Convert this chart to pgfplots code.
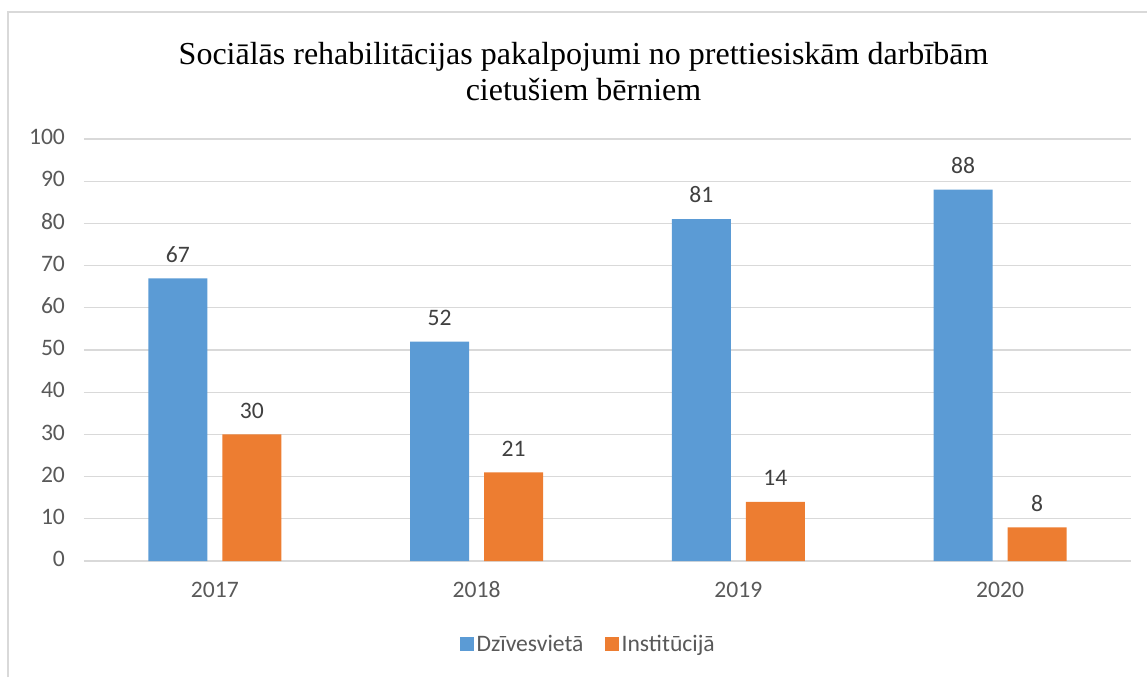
\documentclass[border=0pt]{standalone}
\usepackage{fontspec}
\setmainfont{Carlito}
\newfontfamily\titlefont{Liberation Serif}
\usepackage{pgfplots}
\pgfplotsset{compat=1.18}
\definecolor{dzblue}{HTML}{5B9BD5}
\definecolor{inorange}{HTML}{ED7D31}
\definecolor{gridgray}{HTML}{D9D9D9}
\definecolor{ticktext}{HTML}{595959}
\definecolor{labeltext}{HTML}{404040}
\begin{document}
\begin{tikzpicture}
\path[use as bounding box] (0,0) rectangle (573.5pt,-338.5pt);
% chart area frame (only left and top edges are visible)
\draw[gridgray, line width=0.6pt] (4pt,-338.5pt) -- (4pt,-6pt) -- (573.5pt,-6pt);
\node[font=\titlefont\fontsize{16}{18}\selectfont, align=center, anchor=center]
  at (291.75pt,-36pt) {Sociālās rehabilitācijas pakalpojumi no prettiesiskām darbībām\\cietušiem bērniem};
\begin{axis}[
    at={(42pt,-280.5pt)}, anchor=south west,
    scale only axis, width=523.5pt, height=211pt,
    ybar=7.5pt, bar width=29.5pt,
    xmin=-0.5, xmax=3.5, ymin=0, ymax=100,
    xtick={0,1,2,3}, xticklabels={2017,2018,2019,2020},
    ytick={0,10,...,100},
    ymajorgrids, major grid style={gridgray, line width=0.6pt},
    axis line style={draw=none}, major tick length=0pt,
    typeset ticklabels with strut,
    tick label style={font=\fontsize{11.8}{14}\selectfont, text=ticktext},
    yticklabel style={xshift=-6pt},
    xticklabel style={yshift=-5pt},
    /pgf/number format/assume math mode=true,
    nodes near coords,
    nodes near coords style={font=\fontsize{11.8}{14}\selectfont, text=labeltext, yshift=4.5pt},
    legend style={at={(0.482,-0.199)}, anchor=center, legend columns=2, draw=none,
        font=\fontsize{11.8}{14}\selectfont, text=ticktext,
        nodes={inner sep=1.3pt},
        /tikz/every even column/.append style={column sep=9.5pt}},
    legend image code/.code={\fill[#1] (0pt,-3.2pt) rectangle (7pt,3.8pt);},
]
\addplot[fill=dzblue, draw=none] coordinates {(0,67) (1,52) (2,81) (3,88)};
\addplot[fill=inorange, draw=none] coordinates {(0,30) (1,21) (2,14) (3,8)};
\legend{Dzīvesvietā, Institūcijā}
\end{axis}
\end{tikzpicture}
\end{document}
